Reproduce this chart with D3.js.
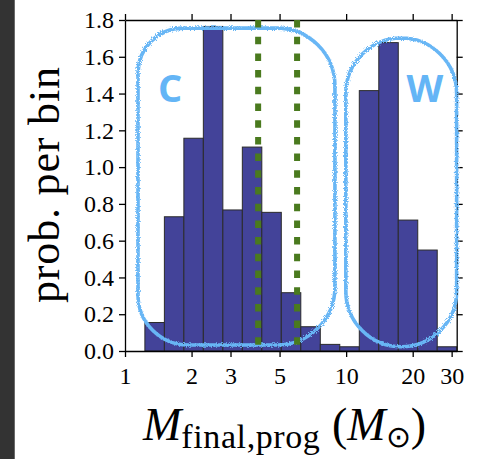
<!DOCTYPE html>
<html>
<head>
<meta charset="utf-8">
<script src="https://cdn.jsdelivr.net/npm/d3@7"></script>
<style>
body { margin: 0; background: #fff; }
svg { display: block; }
.axis text { font-family: "Liberation Serif", serif; font-size: 24px; fill: #000; }
.axis path, .axis line { stroke: #000; stroke-width: 1.3; }
</style>
</head>
<body>
<svg width="481" height="459"></svg>
<script>
// histogram bins (log spaced, M_sun) and probability per bin
const binEdges = [1.230, 1.507, 1.846, 2.261, 2.770, 3.393, 4.156, 5.091, 6.237,
                  7.641, 9.360, 11.47, 14.05, 17.21, 21.08, 25.82, 31.62];
const probs = [0.155, 0.730, 1.157, 1.765, 0.767, 1.109, 0.754, 0.317,
               0.132, 0.036, 0.023, 1.416, 1.677, 0.712, 0.549, 0.023];

const xTicks = [1, 2, 3, 5, 10, 20, 30];
const yTicks = [0, 0.2, 0.4, 0.6, 0.8, 1.0, 1.2, 1.4, 1.6, 1.8];
const cutLines = [4, 6];

// hand drawn group boxes (data coords)
const groupNames = ["C", "W"];
const groupXMin = [1.145, 9.97];
const groupXMax = [8.9, 31.6];
const groupYMin = [0.033, 0.023];
const groupYMax = [1.756, 1.702];
const groupLabelX = [1.6, 22.7];
const groupLabelY = [1.354, 1.354];

const mLeft = 125, mRight = 456.7, mTop = 20, mBottom = 351;

const svg = d3.select("svg");

// dark side strip
svg.append("rect").attr("x", 0).attr("y", 0).attr("width", 14).attr("height", 459).attr("fill", "#333");
svg.append("line").attr("x1", 14.5).attr("x2", 14.5).attr("y1", 0).attr("y2", 459)
    .attr("stroke", "#6a6a6a").attr("stroke-width", 1);

const defs = svg.append("defs");
const filt = defs.append("filter").attr("id", "rough")
    .attr("x", "-5%").attr("y", "-5%").attr("width", "110%").attr("height", "110%");
filt.append("feTurbulence").attr("type", "fractalNoise").attr("baseFrequency", 1.2)
    .attr("numOctaves", 2).attr("seed", 3).attr("result", "n");
filt.append("feDisplacementMap").attr("in", "SourceGraphic").attr("in2", "n").attr("scale", 4);

const x = d3.scaleLog().domain([1, 31.623]).range([mLeft, mRight]);
const y = d3.scaleLinear().domain([0, 1.8]).range([mBottom, mTop]);

const bins = probs.map((p, i) => ({ x0: binEdges[i], x1: binEdges[i + 1], p: p }));

svg.append("g")
    .selectAll("rect")
    .data(bins)
    .enter().append("rect")
    .attr("x", d => x(d.x0))
    .attr("y", d => y(d.p))
    .attr("width", d => x(d.x1) - x(d.x0))
    .attr("height", d => y(0) - y(d.p))
    .attr("fill", "#434399")
    .attr("stroke", "#2b2b2b")
    .attr("stroke-width", 1);

// axes
svg.append("g").attr("class", "axis")
    .attr("transform", `translate(${mLeft},0)`)
    .call(d3.axisLeft(y).tickValues(yTicks).tickFormat(d3.format(".1f")).tickSize(6).tickSizeOuter(0).tickPadding(5));

svg.append("g").attr("class", "axis")
    .attr("transform", `translate(${mRight},0)`)
    .call(d3.axisRight(y).tickValues(yTicks).tickFormat("").tickSize(6).tickSizeOuter(0));

svg.append("g").attr("class", "axis")
    .attr("transform", `translate(0,${mBottom})`)
    .call(d3.axisBottom(x).tickValues(xTicks).tickFormat(d3.format("d")).tickSize(6).tickSizeOuter(0).tickPadding(10));

svg.append("g").attr("class", "axis")
    .attr("transform", `translate(0,${mTop})`)
    .call(d3.axisTop(x).tickValues(xTicks).tickFormat("").tickSize(6).tickSizeOuter(0));

// rounded boxes
function boxPath(x0, y0, x1, y1, r) {
  const [tl, tr, br, bl] = r;
  return `M${x0},${y0 + tl}` +
    `A${tl},${tl} 0 0 1 ${x0 + tl},${y0}` +
    `L${x1 - tr},${y0}` +
    `A${tr},${tr} 0 0 1 ${x1},${y0 + tr}` +
    `L${x1},${y1 - br}` +
    `A${br},${br} 0 0 1 ${x1 - br},${y1}` +
    `L${x0 + bl},${y1}` +
    `A${bl},${bl} 0 0 1 ${x0},${y1 - bl}Z`;
}
const radii = [[45, 58, 58, 50], [55.5, 55.5, 55.5, 55.5]];

const boxes = svg.append("g").attr("filter", "url(#rough)");
groupNames.forEach((name, i) => {
  boxes.append("path")
      .attr("d", boxPath(x(groupXMin[i]), y(groupYMax[i]), x(groupXMax[i]), y(groupYMin[i]), radii[i]))
      .attr("fill", "none")
      .attr("stroke", "#68b6f5")
      .attr("stroke-width", 3.6);
});

svg.append("g").selectAll("text")
    .data(groupNames)
    .enter().append("text")
    .attr("x", (d, i) => x(groupLabelX[i]))
    .attr("y", (d, i) => y(groupLabelY[i]))
    .attr("text-anchor", "middle")
    .attr("font-family", "Open Sans, sans-serif")
    .attr("font-weight", "bold")
    .attr("font-size", 38)
    .attr("fill", "#64b5f6")
    .text(d => d);

// cut lines
svg.append("g").selectAll("line")
    .data(cutLines)
    .enter().append("line")
    .attr("x1", d => x(d)).attr("x2", d => x(d))
    .attr("y1", y(1.8)).attr("y2", y(0))
    .attr("stroke", "#4a7a1e")
    .attr("stroke-width", 6)
    .attr("stroke-dasharray", "7.5,9.2");

// axis labels
svg.append("text")
    .attr("transform", "translate(59,185) rotate(-90)")
    .attr("text-anchor", "middle")
    .attr("font-family", "Liberation Serif, serif")
    .attr("font-size", 44)
    .attr("textLength", 236)
    .attr("lengthAdjust", "spacing")
    .text("prob. per bin");

const xl = svg.append("text")
    .attr("x", 143).attr("y", 440)
    .attr("font-family", "Liberation Serif, serif")
    .attr("font-size", 46);
xl.append("tspan").attr("font-style", "italic").text("M");
xl.append("tspan").attr("font-size", 34).attr("dy", 8).attr("letter-spacing", 0.6).text("final,prog");
xl.append("tspan").attr("dy", -8).text(" (");
xl.append("tspan").attr("font-style", "italic").text("M");
xl.append("tspan").attr("font-size", 30).attr("dy", 7).text("\u2299");
xl.append("tspan").attr("dy", -7).text(")");
</script>
</body>
</html>
